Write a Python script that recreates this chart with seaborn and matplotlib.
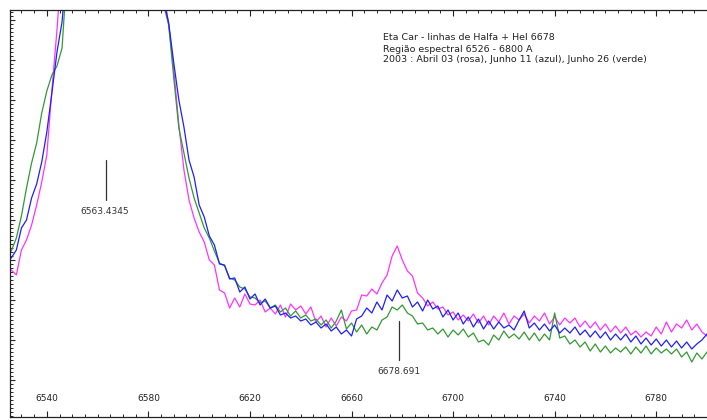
import numpy as np
import pandas as pd
import matplotlib
matplotlib.use("Agg")
import matplotlib.pyplot as plt
from matplotlib.ticker import MultipleLocator, NullFormatter
import seaborn as sns

# ---- data (flux in arbitrary units) ----
wavelength = np.arange(6526, 6801, 2)

rosa_abril03 = [
    1.50, 1.45, 1.70, 1.80, 1.95, 2.15, 2.38, 2.65, 3.30, 3.90,
    4.60, 5.40, 6.30, 7.50, 9.00, 11.0, 13.5, 16.0, 18.5, 20.0,
    19.5, 17.5, 15.0, 12.5, 10.0, 8.20, 6.80, 5.70, 4.90, 4.40,
    4.30, 3.95, 3.50, 2.95, 2.50, 2.20, 2.02, 1.88, 1.78, 1.60,
    1.55, 1.30, 1.27, 1.12, 1.22, 1.13, 1.26, 1.16, 1.15, 1.20,
    1.08, 1.12, 1.06, 1.15, 1.03, 1.16, 1.10, 1.14, 1.06, 1.13,
    0.98, 1.04, 0.93, 1.02, 0.94, 1.03, 0.99, 1.09, 1.10, 1.25,
    1.24, 1.31, 1.26, 1.37, 1.45, 1.64, 1.74, 1.60, 1.49, 1.44,
    1.27, 1.22, 1.14, 1.18, 1.11, 1.13, 1.05, 1.08, 1.00, 1.05,
    0.99, 1.06, 0.97, 1.04, 0.95, 1.04, 0.98, 1.07, 0.96, 1.04,
    1.00, 1.06, 0.97, 1.04, 0.99, 1.07, 0.96, 1.03, 0.95, 1.02,
    0.97, 1.02, 0.93, 0.99, 0.92, 0.98, 0.90, 0.96, 0.88, 0.94,
    0.87, 0.93, 0.85, 0.89, 0.83, 0.88, 0.84, 0.93, 0.86, 0.98,
    0.88, 0.96, 0.92, 1.00, 0.90, 0.96, 0.88, 0.84,
]

azul_junho11 = [
    1.62, 1.70, 1.92, 2.00, 2.22, 2.36, 2.58, 2.88, 3.27, 3.68,
    3.98, 4.60, 5.50, 6.60, 8.00, 9.80, 12.0, 14.5, 17.0, 18.5,
    18.0, 16.0, 13.5, 11.0, 9.00, 7.40, 6.20, 5.30, 4.70, 4.35,
    4.20, 3.97, 3.57, 3.20, 2.93, 2.60, 2.43, 2.15, 2.03, 1.84,
    1.75, 1.56, 1.55, 1.41, 1.42, 1.28, 1.33, 1.21, 1.26, 1.15,
    1.21, 1.12, 1.14, 1.05, 1.07, 1.02, 1.04, 0.99, 1.01, 0.95,
    0.98, 0.92, 0.96, 0.89, 0.93, 0.86, 0.90, 0.84, 1.01, 1.04,
    1.12, 1.07, 1.18, 1.10, 1.25, 1.19, 1.30, 1.22, 1.24, 1.13,
    1.18, 1.09, 1.20, 1.11, 1.14, 1.03, 1.10, 1.00, 1.07, 0.96,
    1.03, 0.93, 1.01, 0.91, 0.99, 0.91, 0.98, 0.92, 0.95, 0.90,
    1.00, 1.09, 0.92, 0.97, 0.90, 0.96, 0.89, 0.95, 0.87, 0.92,
    0.87, 0.93, 0.85, 0.90, 0.83, 0.89, 0.82, 0.88, 0.80, 0.86,
    0.80, 0.86, 0.78, 0.84, 0.76, 0.82, 0.75, 0.81, 0.74, 0.80,
    0.73, 0.79, 0.72, 0.78, 0.71, 0.76, 0.80, 0.86,
]

verde_junho26 = [
    1.69, 1.82, 2.04, 2.32, 2.57, 2.77, 3.07, 3.29, 3.45, 3.54,
    3.72, 4.50, 5.30, 6.30, 7.60, 9.20, 11.5, 14.0, 16.5, 18.0,
    17.5, 15.5, 13.0, 10.5, 8.60, 7.00, 5.90, 5.00, 4.50, 4.20,
    4.15, 3.95, 3.42, 2.92, 2.67, 2.42, 2.22, 2.07, 1.92, 1.82,
    1.69, 1.57, 1.54, 1.42, 1.40, 1.33, 1.31, 1.23, 1.22, 1.17,
    1.19, 1.12, 1.15, 1.08, 1.12, 1.04, 1.09, 1.02, 1.05, 0.99,
    1.01, 0.95, 1.00, 0.92, 0.99, 1.10, 0.91, 0.97, 0.88, 0.95,
    0.86, 0.93, 0.90, 1.00, 1.03, 1.13, 1.10, 1.15, 1.07, 1.04,
    0.96, 0.97, 0.90, 0.92, 0.86, 0.91, 0.83, 0.90, 0.85, 0.91,
    0.83, 0.87, 0.78, 0.80, 0.75, 0.85, 0.80, 0.89, 0.82, 0.86,
    0.81, 0.88, 0.80, 0.87, 0.79, 0.86, 0.80, 1.07, 0.82, 0.84,
    0.76, 0.80, 0.73, 0.78, 0.69, 0.76, 0.68, 0.74, 0.67, 0.72,
    0.68, 0.73, 0.66, 0.73, 0.67, 0.74, 0.66, 0.72, 0.67, 0.71,
    0.66, 0.71, 0.63, 0.68, 0.58, 0.67, 0.61, 0.68,
]

series_names = ["Abril 03 (rosa)", "Junho 26 (verde)", "Junho 11 (azul)"]
series_colors = ["#ff33ff", "#339933", "#1f1fff"]

line_labels = ["6563.4345", "6678.691"]
line_wavelengths = [6563.4345, 6678.691]

title_lines = [
    "Eta Car - linhas de Halfa + HeI 6678",
    "Região espectral 6526 - 6800 A",
    "2003 : Abril 03 (rosa), Junho 11 (azul), Junho 26 (verde)",
]

# ---- build long-form table ----
df = pd.concat([
    pd.DataFrame({"wavelength": wavelength, "flux": rosa_abril03, "serie": series_names[0]}),
    pd.DataFrame({"wavelength": wavelength, "flux": verde_junho26, "serie": series_names[1]}),
    pd.DataFrame({"wavelength": wavelength, "flux": azul_junho11, "serie": series_names[2]}),
], ignore_index=True)

sns.set_style("ticks")
plt.rcParams["font.family"] = ["DejaVu Sans"]

fig = plt.figure(figsize=(7.07, 4.20), dpi=100)
ax = fig.add_axes([10 / 707, 3 / 420, 697 / 707, 407 / 420])

sns.lineplot(data=df, x="wavelength", y="flux", hue="serie",
             hue_order=series_names, palette=dict(zip(series_names, series_colors)),
             estimator=None, sort=False, linewidth=0.9, legend=False, ax=ax)

ax.set_xlim(6525.5, 6800)
ax.set_ylim(0.03, 4.1)
ax.set_xlabel("")
ax.set_ylabel("")

# ticks
ax.xaxis.set_major_locator(MultipleLocator(40, offset=20))
ax.xaxis.set_minor_locator(MultipleLocator(5))
ax.yaxis.set_major_locator(MultipleLocator(0.4))
ax.yaxis.set_minor_locator(MultipleLocator(0.04))
ax.yaxis.set_major_formatter(NullFormatter())
ax.tick_params(axis="x", which="major", direction="in", length=4, width=0.8,
               top=True, bottom=True, labelsize=6.5, pad=-10, colors="#222222")
ax.tick_params(axis="x", which="minor", direction="in", length=2, width=0.7,
               top=True, bottom=True)
ax.tick_params(axis="y", which="major", direction="in", length=3.5, width=0.8,
               left=True, right=False)
ax.tick_params(axis="y", which="minor", direction="in", length=2, width=0.7,
               left=True, right=False)
for lbl in ax.get_xticklabels():
    lbl.set_verticalalignment("bottom")

for side in ["left", "top", "bottom"]:
    ax.spines[side].set_linewidth(0.9)
    ax.spines[side].set_color("#222222")
ax.spines["right"].set_visible(False)

# line identification marks
ax.plot([line_wavelengths[0]] * 2, [2.20, 2.60], color="#333333", linewidth=0.9)
ax.text(line_wavelengths[0] - 0.5, 2.08, line_labels[0], ha="center", va="center",
        fontsize=6.5, color="#333333")
ax.plot([line_wavelengths[1]] * 2, [0.60, 0.99], color="#333333", linewidth=0.9)
ax.text(line_wavelengths[1], 0.49, line_labels[1], ha="center", va="center",
        fontsize=6.5, color="#333333")

# header text
for i, t in enumerate(title_lines):
    ax.text(373 / 697, 1 - (28 + 11 * i) / 407, t, transform=ax.transAxes,
            ha="left", va="center", fontsize=6.8, color="#222222")

fig.savefig("out.png", dpi=100)
